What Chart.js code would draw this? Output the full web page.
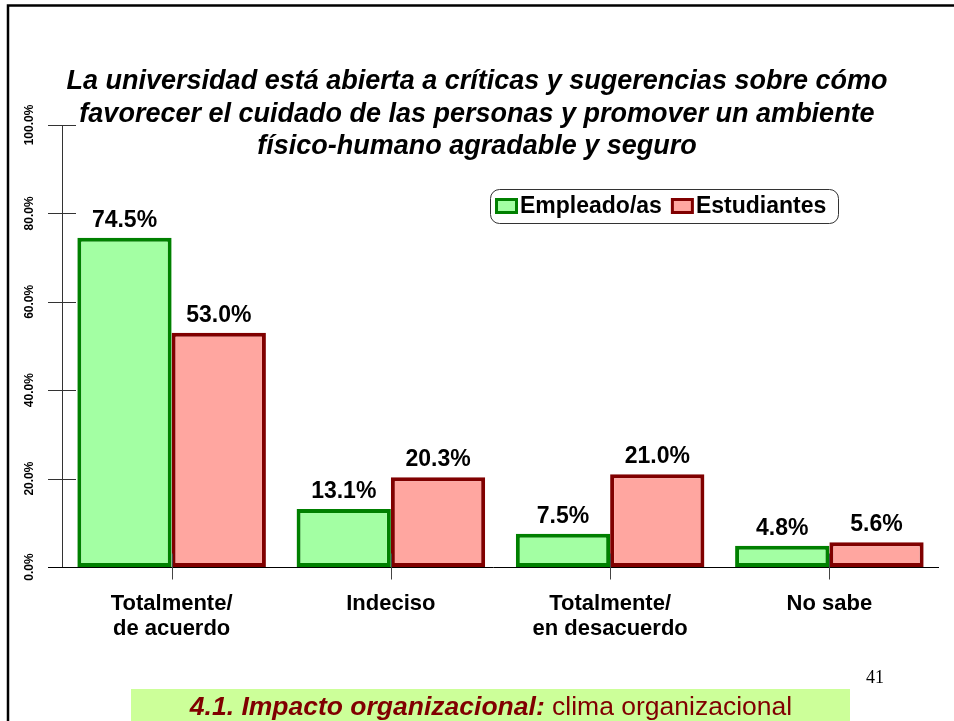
<!DOCTYPE html>
<html>
<head>
<meta charset="utf-8">
<script src="https://cdn.jsdelivr.net/npm/chart.js@4.4.1/dist/chart.umd.min.js"></script>
<style>
  html, body { margin: 0; padding: 0; background: #fff; }
  #wrap { position: relative; width: 954px; height: 721px; }
</style>
</head>
<body>
<div id="wrap"><canvas id="chart" width="954" height="721"></canvas></div>
<script>
// data
const categories = [["Totalmente/", "de acuerdo"], "Indeciso", ["Totalmente/", "en desacuerdo"], "No sabe"];
const empleados = [74.5, 13.1, 7.5, 4.8];
const estudiantes = [53.0, 20.3, 21.0, 5.6];
const seriesNames = ["Empleado/as", "Estudiantes"];
const yTicks = [0, 20, 40, 60, 80, 100];
const titleLines = [
  "La universidad está abierta a críticas y sugerencias sobre cómo",
  "favorecer el cuidado de las personas y promover un ambiente",
  "físico-humano agradable y seguro"
];
const pageNumber = "41";
const footerBold = "4.1. Impacto organizacional:";
const footerText = " clima organizacional";

const FONT = "Arial, 'Liberation Sans', sans-serif";

// Slide decorations, axes, value labels and legend
const slidePlugin = {
  id: "slide",
  beforeDraw(chart) {
    const ctx = chart.ctx;
    ctx.save();
    ctx.fillStyle = "#fff";
    ctx.fillRect(0, 0, chart.width, chart.height);

    // frame
    ctx.strokeStyle = "#000";
    ctx.lineWidth = 2.5;
    ctx.beginPath();
    ctx.moveTo(8, chart.height);
    ctx.lineTo(8, 5.5);
    ctx.lineTo(chart.width, 5.5);
    ctx.stroke();

    // title
    ctx.fillStyle = "#000";
    ctx.font = "italic bold 27px " + FONT;
    ctx.textAlign = "center";
    ctx.textBaseline = "middle";
    titleLines.forEach((t, i) => ctx.fillText(t, 477, 82 + i * 32.5));

    // page number
    ctx.font = "18px 'Liberation Serif', 'Times New Roman', serif";
    ctx.textAlign = "left";
    ctx.textBaseline = "alphabetic";
    ctx.fillText(pageNumber, 866, 683);

    // footer box
    ctx.fillStyle = "#CCFF99";
    ctx.fillRect(131, 689, 719, 40);
    ctx.font = "italic bold 26.5px " + FONT;
    const w1 = ctx.measureText(footerBold).width;
    ctx.font = "26.5px " + FONT;
    const w2 = ctx.measureText(footerText).width;
    let fx = 491 - (w1 + w2) / 2;
    ctx.fillStyle = "#800000";
    ctx.font = "italic bold 26.5px " + FONT;
    ctx.fillText(footerBold, fx, 715);
    ctx.font = "26.5px " + FONT;
    ctx.fillText(footerText, fx + w1, 715);
    ctx.restore();
  },
  afterDatasetsDraw(chart) {
    const ctx = chart.ctx;
    const xs = chart.scales.x;
    const ys = chart.scales.y;
    const area = chart.chartArea;
    ctx.save();

    // y axis with crossing ticks
    ctx.strokeStyle = "#333";
    ctx.lineWidth = 1;
    ctx.beginPath();
    ctx.moveTo(area.left + 0.5, ys.getPixelForValue(100));
    ctx.lineTo(area.left + 0.5, ys.getPixelForValue(0));
    yTicks.forEach(v => {
      const y = Math.round(ys.getPixelForValue(v)) + 0.5;
      ctx.moveTo(area.left - 14, y);
      ctx.lineTo(area.left + 14, y);
    });
    ctx.stroke();

    // x axis
    const y0 = Math.round(ys.getPixelForValue(0)) + 0.5;
    ctx.strokeStyle = "#000";
    ctx.beginPath();
    ctx.moveTo(area.left - 14, y0);
    ctx.lineTo(area.right, y0);
    ctx.stroke();
    ctx.strokeStyle = "#444";
    ctx.beginPath();
    categories.forEach((c, i) => {
      const x = Math.round(xs.getPixelForTick(i)) + 0.5;
      ctx.moveTo(x, y0 - 14);
      ctx.lineTo(x, y0 + 12);
    });
    ctx.stroke();

    // y tick labels, rotated
    ctx.fillStyle = "#000";
    ctx.font = "bold 12px " + FONT;
    ctx.textAlign = "center";
    ctx.textBaseline = "middle";
    yTicks.forEach(v => {
      ctx.save();
      ctx.translate(30, ys.getPixelForValue(v));
      ctx.rotate(-Math.PI / 2);
      ctx.fillText(v.toFixed(1) + "%", 0, 0);
      ctx.restore();
    });

    // value labels
    ctx.font = "bold 23px " + FONT;
    ctx.textBaseline = "alphabetic";
    chart.data.datasets.forEach((ds, di) => {
      chart.getDatasetMeta(di).data.forEach((bar, i) => {
        ctx.fillText(ds.data[i].toFixed(1) + "%", bar.x, bar.y - 11);
      });
    });

    // legend
    ctx.strokeStyle = "#333";
    ctx.lineWidth = 1;
    ctx.beginPath();
    ctx.roundRect(490.5, 189.5, 348, 34, 9);
    ctx.stroke();
    ctx.font = "bold 23px " + FONT;
    ctx.textAlign = "left";
    ctx.textBaseline = "middle";
    let lx = 496;
    chart.data.datasets.forEach(ds => {
      ctx.fillStyle = ds.backgroundColor;
      ctx.strokeStyle = ds.borderColor;
      ctx.lineWidth = 3;
      ctx.fillRect(lx, 199, 20, 13);
      ctx.strokeRect(lx + 0.5, 199.5, 20, 13);
      ctx.fillStyle = "#000";
      ctx.fillText(ds.label, lx + 24, 207);
      lx += 24 + ctx.measureText(ds.label).width + 10;
    });
    ctx.restore();
  }
};

new Chart(document.getElementById("chart"), {
  type: "bar",
  data: {
    labels: categories,
    datasets: [
      {
        label: seriesNames[0],
        data: empleados,
        backgroundColor: "#A3FFA3",
        borderColor: "#008000",
        borderWidth: 4,
        borderSkipped: false,
        categoryPercentage: 0.86,
        barPercentage: 1.0
      },
      {
        label: seriesNames[1],
        data: estudiantes,
        backgroundColor: "#FFA6A0",
        borderColor: "#800000",
        borderWidth: 4,
        borderSkipped: false,
        categoryPercentage: 0.86,
        barPercentage: 1.0
      }
    ]
  },
  options: {
    responsive: false,
    animation: false,
    layout: { padding: { left: 62, right: 15, top: 125, bottom: 0 } },
    plugins: {
      legend: { display: false },
      title: { display: false },
      tooltip: { enabled: false }
    },
    scales: {
      x: {
        grid: { display: false, drawTicks: false },
        border: { display: false },
        ticks: {
          padding: 24,
          color: "#000",
          maxRotation: 0,
          autoSkip: false,
          font: { family: FONT, size: 22, weight: "bold", lineHeight: 25 / 22 }
        },
        afterFit(s) { s.height = 154; }
      },
      y: { display: false, min: 0, max: 100 }
    }
  },
  plugins: [slidePlugin]
});
</script>
</body>
</html>
